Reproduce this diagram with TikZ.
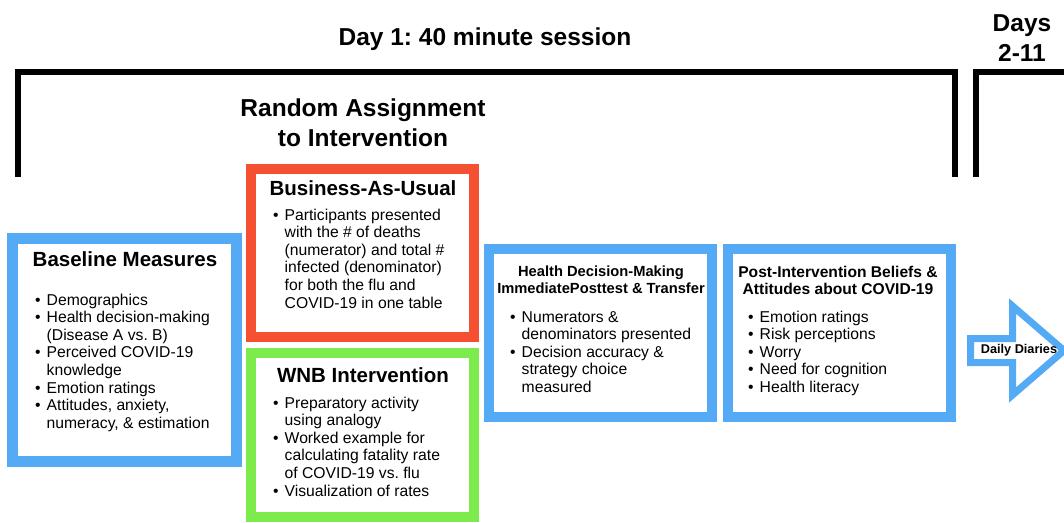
\documentclass[tikz,border=0pt]{standalone}
\usepackage{fontspec}
\setmainfont{Liberation Sans}
\usetikzlibrary{positioning}
\frenchspacing

\definecolor{boxblue}{RGB}{85,170,245}
\definecolor{busred}{RGB}{245,80,50}
\definecolor{wnbgreen}{RGB}{125,235,75}

\newcommand{\headfont}{\fontsize{24.5}{30}\selectfont\bfseries}
\newcommand{\titlefont}{\fontsize{20.5}{24}\selectfont\bfseries}
\newcommand{\subfont}{\fontsize{14.7}{17}\selectfont\bfseries}
\newcommand{\listfont}{\fontsize{15.7}{17.6}\selectfont}
\newcommand{\bul}{\textbullet}
% bullet list with hanging lines
\newcommand{\itemlist}[1]{\begin{tabular}[t]{@{}l@{\hspace{6pt}}l@{}}#1\end{tabular}}

\begin{document}
\begin{tikzpicture}[x=1pt,y=-1pt,
    box/.style={draw,line width=10pt,fill=white,inner sep=0pt},
    bracket/.style={line width=6pt,line join=miter},
    head/.style={font=\headfont,align=center,inner sep=0pt},
    title/.style={font=\titlefont,inner sep=0pt,anchor=base},
    subtitle/.style={font=\subfont,align=center,inner sep=0pt},
    list/.style={font=\listfont,inner sep=0pt,anchor=base west}]
  \fill[white] (0,0) rectangle (1064,522);
  \useasboundingbox (0,0) rectangle (1064,522);

  % day brackets
  \draw[bracket] (17.5,177) |- (954.5,72) -- (954.5,177);
  \draw[bracket] (976,177) |- (1072,72);
  \node[head] (day1) at (485,39) {Day 1: 40 minute session};
  \node[head] (days) at (1022,38) {Days\\2-11};
  \node[head] (random) at (363,123) {Random Assignment\\to Intervention};

  % boxes
  \node[box,draw=boxblue,line width=10.5pt,minimum width=224pt,minimum height=223pt] (base) at (124.5,350) {};
  \node[box,draw=busred,minimum width=223pt,minimum height=168pt] (bau) at (362.5,253) {};
  \node[box,draw=wnbgreen,minimum width=223pt,minimum height=164pt] (wnb) at (362.5,435) {};
  \node[box,draw=boxblue,minimum width=223pt,minimum height=168pt] (hdm) at (600.5,333) {};
  \node[box,draw=boxblue,minimum width=223pt,minimum height=168pt] (post) at (839.5,333) {};

  % baseline
  \node[title] (baseT) at (125,266) {Baseline Measures};
  \node[list] (baseL) at (35,305) {\itemlist{
    \bul & Demographics\\
    \bul & Health decision-making\\
         & (Disease A vs. B)\\
    \bul & Perceived COVID-19\\
         & knowledge\\
    \bul & Emotion ratings\\
    \bul & Attitudes, anxiety,\\
         & numeracy, \& estimation}};

  % business as usual
  \node[title] (bauT) at (363,195) {Business-As-Usual};
  \node[list] (bauL) at (273,220) {\itemlist{
    \bul & Participants presented\\
         & with the \# of deaths\\
         & (numerator) and total \#\\
         & infected (denominator)\\
         & for both the flu and\\
         & COVID-19 in one table}};

  % wnb
  \node[title] (wnbT) at (363,382) {WNB Intervention};
  \node[list] (wnbL) at (273,408) {\itemlist{
    \bul & Preparatory activity\\
         & using analogy\\
    \bul & Worked example for\\
         & calculating fatality rate\\
         & of COVID-19 vs. flu\\
    \bul & Visualization of rates}};

  % posttest
  \node[subtitle] (hdmT) at (601,280) {Health Decision-Making\\ImmediatePosttest \& Transfer};
  \node[list] (hdmL) at (510,322) {\itemlist{
    \bul & Numerators \&\\
         & denominators presented\\
    \bul & Decision accuracy \&\\
         & strategy choice\\
         & measured}};

  % beliefs
  \node[subtitle,font=\fontsize{15.6}{17}\selectfont\bfseries] (postT) at (838,280) {Post-Intervention Beliefs \&\\Attitudes about COVID-19};
  \node[list] (postL) at (748,322) {\itemlist{
    \bul & Emotion ratings\\
    \bul & Risk perceptions\\
    \bul & Worry\\
    \bul & Need for cognition\\
    \bul & Health literacy}};

  % diaries arrow
  \draw[line width=7pt,draw=boxblue,fill=white,line join=miter]
    (970.5,338.5) -- (1012.5,338.5) -- (1012.5,306) -- (1064,350.5)
    -- (1012.5,395) -- (1012.5,362.5) -- (970.5,362.5) -- cycle;
  \node[font=\fontsize{12.7}{15}\selectfont\bfseries,inner sep=0pt] (diaries) at (1019,350) {Daily Diaries};
\end{tikzpicture}
\end{document}
